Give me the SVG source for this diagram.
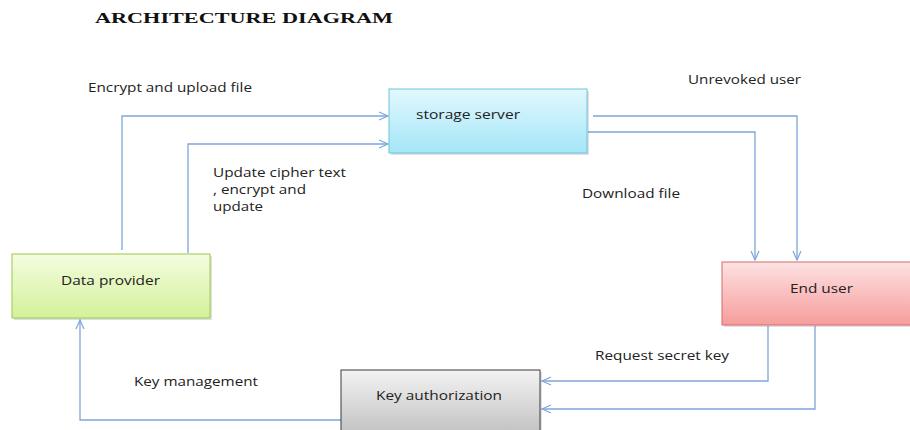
<svg xmlns="http://www.w3.org/2000/svg" width="910" height="430" viewBox="0 0 910 430">
  <style>
    .title { font-family: "Liberation Serif", "Times New Roman", serif; font-weight: bold; font-size: 15.5px; fill: #111; }
    .lbl { font-family: "Open Sans", "Liberation Sans", sans-serif; font-size: 12px; fill: #222; }
    .node-text { font-family: "Open Sans", "Liberation Sans", sans-serif; font-size: 12.5px; fill: #222; }
    .wire { fill: none; stroke: #7fa6d9; stroke-width: 1.3; marker-end: url(#open); }
    .shadow { fill: #000; opacity: 0.12; }
  </style>
  <defs>
    <marker id="open" markerWidth="12" markerHeight="12" refX="10" refY="5" orient="auto" markerUnits="userSpaceOnUse">
      <path d="M1,1 L10,5 L1,9" fill="none" stroke="#7fa6d9" stroke-width="1.2"/>
    </marker>
    <linearGradient id="gCyan" x1="0" y1="0" x2="0" y2="1">
      <stop offset="0" stop-color="#e2f8fe"/>
      <stop offset="1" stop-color="#a4e6f7"/>
    </linearGradient>
    <linearGradient id="gGreen" x1="0" y1="0" x2="0" y2="1">
      <stop offset="0" stop-color="#f4fde0"/>
      <stop offset="1" stop-color="#d4f19a"/>
    </linearGradient>
    <linearGradient id="gPink" x1="0" y1="0" x2="0" y2="1">
      <stop offset="0" stop-color="#fde2e2"/>
      <stop offset="1" stop-color="#f79c9c"/>
    </linearGradient>
    <linearGradient id="gGray" x1="0" y1="0" x2="0" y2="1">
      <stop offset="0" stop-color="#f3f3f3"/>
      <stop offset="1" stop-color="#bdbdbd"/>
    </linearGradient>
  </defs>

  <rect width="910" height="430" fill="#ffffff"/>

  <text class="title" x="95" y="23" textLength="298" lengthAdjust="spacingAndGlyphs">ARCHITECTURE DIAGRAM</text>

  <!-- connectors -->
  <g id="connectors">
    <path class="wire" d="M122,250 V116 H388"/>
    <path class="wire" d="M188,253 V144 H388"/>
    <path class="wire" d="M593,116 H797 V260"/>
    <path class="wire" d="M588,132 H755 V260"/>
    <path class="wire" d="M768,326 V381 H542"/>
    <path class="wire" d="M815,326 V409 H542"/>
    <path class="wire" d="M341,420 H80 V320"/>
  </g>

  <!-- connector labels (glyphs stretched wide) -->
  <g id="labels">
    <text class="lbl" x="88" y="92" textLength="164" lengthAdjust="spacingAndGlyphs">Encrypt and upload file</text>
    <text class="lbl" x="688" y="84" textLength="113" lengthAdjust="spacingAndGlyphs">Unrevoked user</text>
    <text class="lbl" x="213" y="177" textLength="133" lengthAdjust="spacingAndGlyphs">Update cipher text</text>
    <text class="lbl" x="213" y="194" textLength="93" lengthAdjust="spacingAndGlyphs">, encrypt and</text>
    <text class="lbl" x="213" y="211" textLength="50" lengthAdjust="spacingAndGlyphs">update</text>
    <text class="lbl" x="582" y="198" textLength="98" lengthAdjust="spacingAndGlyphs">Download file</text>
    <text class="lbl" x="595" y="360" textLength="134" lengthAdjust="spacingAndGlyphs">Request secret key</text>
    <text class="lbl" x="134" y="386" textLength="124" lengthAdjust="spacingAndGlyphs">Key management</text>
  </g>

  <g id="storage-server">
    <rect class="shadow" x="391" y="91" width="198" height="64"/>
    <rect x="389" y="89" width="198" height="64" fill="url(#gCyan)" stroke="#6cc4dc" stroke-width="1"/>
    <text class="node-text" x="416" y="119" textLength="104" lengthAdjust="spacingAndGlyphs">storage server</text>
  </g>

  <g id="data-provider">
    <rect class="shadow" x="14" y="256" width="198" height="64"/>
    <rect x="12" y="254" width="198" height="64" fill="url(#gGreen)" stroke="#9cc84a" stroke-width="1"/>
    <text class="node-text" x="61" y="285" textLength="99" lengthAdjust="spacingAndGlyphs">Data provider</text>
  </g>

  <g id="end-user">
    <rect class="shadow" x="724" y="264" width="200" height="63"/>
    <rect x="722" y="262" width="200" height="63" fill="url(#gPink)" stroke="#d56a6a" stroke-width="1"/>
    <text class="node-text" x="790" y="293" textLength="63" lengthAdjust="spacingAndGlyphs">End user</text>
  </g>

  <g id="key-authorization">
    <rect class="shadow" x="343" y="372" width="199" height="70"/>
    <rect x="341" y="370" width="199" height="70" fill="url(#gGray)" stroke="#3a3a3a" stroke-width="1"/>
    <text class="node-text" x="376" y="400" textLength="126" lengthAdjust="spacingAndGlyphs">Key authorization</text>
  </g>
</svg>
